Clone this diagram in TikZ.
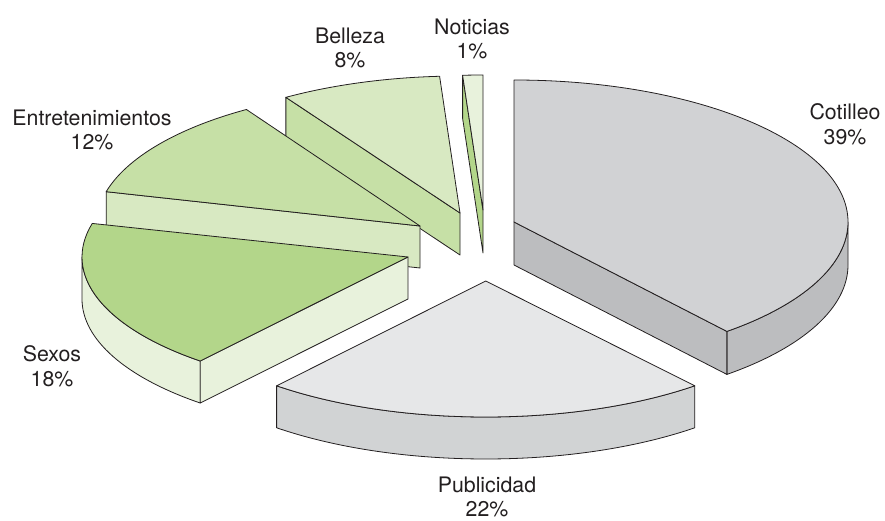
\documentclass[tikz,border=0pt]{standalone}
\usepackage{fontspec}
\setmainfont{TeX Gyre Heros}
\definecolor{ink}{HTML}{231F20}
\definecolor{cotTop}{HTML}{D1D2D4}
\definecolor{cotSide}{HTML}{BCBDBF}
\definecolor{pubTop}{HTML}{E6E7E8}
\definecolor{pubSide}{HTML}{D1D3D4}
\definecolor{gDark}{HTML}{B3D68A}
\definecolor{gMid}{HTML}{C6E0A6}
\definecolor{gLight}{HTML}{D8E9C2}
\definecolor{gPale}{HTML}{E8F2DC}
\tikzset{
  face/.style={draw=ink, line width=0.6pt, line join=round},
  lbl/.style={text=ink, align=center, font=\fontsize{16}{18.5}\selectfont, inner sep=0pt}
}
% #1 cx, #2 cy, #3 rx, #4 ry, #5 start, #6 end, #7 colour
\newcommand\mytop[7]{%
  \begin{scope}[shift={(#1,#2)}]
    \fill[#7] (0,0) -- (#5:#3 and #4) arc[start angle=#5,end angle=#6,x radius=#3,y radius=#4] -- cycle;
    \draw[face] (0,0) -- (#5:#3 and #4) arc[start angle=#5,end angle=#6,x radius=#3,y radius=#4] -- cycle;
  \end{scope}}
% #1 cx, #2 cy, #3 rx, #4 ry, #5 angle, #6 h, #7 colour
\newcommand\myradial[7]{%
  \begin{scope}[shift={(#1,#2)}]
    \filldraw[face, fill=#7] (0,0) -- (#5:#3 and #4) -- ++(0,#6) -- (0,#6) -- cycle;
  \end{scope}}
% #1 cx, #2 cy, #3 rx, #4 ry, #5 from, #6 to, #7 h, #8 colour
\newcommand\myrim[8]{%
  \begin{scope}[shift={(#1,#2)}]
    \filldraw[face, fill=#8] (#5:#3 and #4) arc[start angle=#5,end angle=#6,x radius=#3,y radius=#4]
      -- ++(0,#7) arc[start angle=#6,end angle=#5,x radius=#3,y radius=#4] -- cycle;
  \end{scope}}
\begin{document}
\begin{tikzpicture}[x=0.75pt,y=-0.75pt]
\useasboundingbox (0,0) rectangle (885,521);
% Noticias 1%
\myradial{483}{210}{325}{135}{266.4}{43}{gDark}
\mytop{483}{210}{325}{135}{266.4}{270}{gPale}
% Belleza 8%
\myradial{460}{213}{325}{137}{237.6}{42}{gMid}
\mytop{460}{213}{325}{137}{237.6}{266.4}{gLight}
% Entretenimientos 12%
\myradial{420}{226}{324}{138}{194.4}{42}{gLight}
\mytop{420}{226}{324}{138}{194.4}{237.6}{gMid}
% Sexos 18%
\myrim{408}{257}{326}{135}{129.6}{180}{42}{gPale}
\myradial{408}{257}{326}{135}{129.6}{42}{gPale}
\mytop{408}{257}{326}{135}{129.6}{194.4}{gDark}
% Cotilleo 39%
\myrim{514}{222}{334}{142}{0}{50.4}{43}{cotSide}
\myradial{514}{222}{334}{142}{50.4}{43}{cotSide}
\mytop{514}{222}{334}{142}{-90}{50.4}{cotTop}
% Publicidad 22%
\myrim{485.7}{281}{328}{136}{50.4}{129.6}{42}{pubSide}
\mytop{485.7}{281}{328}{136}{50.4}{129.6}{pubTop}
% labels
\node[lbl] (cot) at (845,124) {Cotilleo\\39\%};
\node[lbl] (pub) at (487,497) {Publicidad\\22\%};
\node[lbl] (sex) at (52,366) {Sexos\\18\%};
\node[lbl] (ent) at (92,130) {Entretenimientos\\12\%};
\node[lbl] (bel) at (350,48) {Belleza\\8\%};
\node[lbl] (not) at (472,39) {Noticias\\1\%};
\end{tikzpicture}
\end{document}
